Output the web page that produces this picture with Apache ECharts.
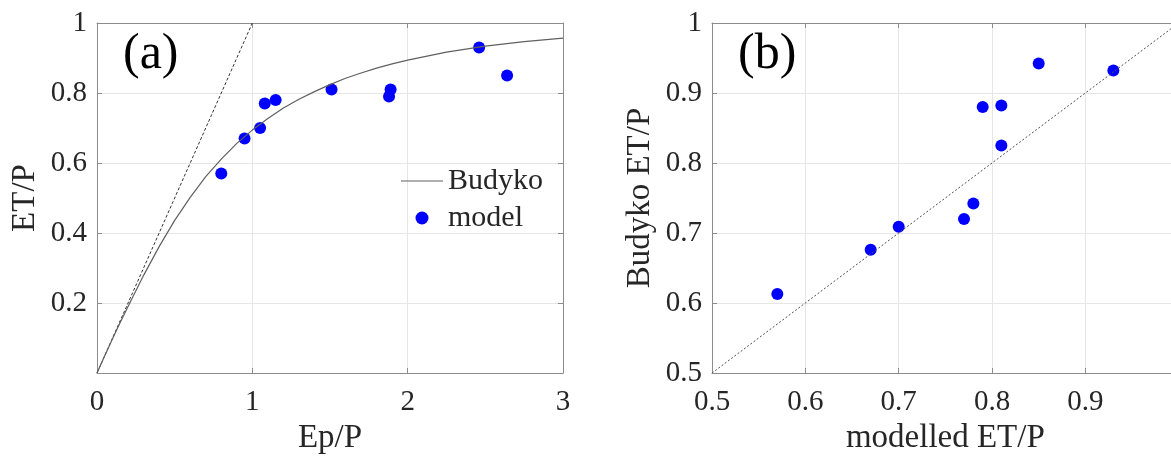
<!DOCTYPE html>
<html>
<head>
<meta charset="utf-8">
<script src="https://cdn.jsdelivr.net/npm/echarts@6/dist/echarts.min.js"></script>
<style>
  html, body { margin: 0; padding: 0; background: #ffffff; }
  #chart { width: 1171px; height: 456px; }
</style>
</head>
<body>
<div id="chart"></div>
<script>
// Budyko curve (ET/P against Ep/P)
const budykoPhi = [0, 0.05, 0.1, 0.15, 0.2, 0.3, 0.4, 0.5, 0.6, 0.7, 0.8, 0.9, 1.0, 1.1, 1.2, 1.3, 1.4, 1.5, 1.6, 1.7, 1.8, 1.9, 2.0, 2.25, 2.5, 2.75, 3.0];
const budykoEtp = [0, 0.049, 0.098, 0.145, 0.190, 0.279, 0.361, 0.436, 0.502, 0.561, 0.611, 0.656, 0.694, 0.727, 0.757, 0.782, 0.804, 0.824, 0.842, 0.857, 0.871, 0.883, 0.894, 0.917, 0.934, 0.947, 0.957];

// energy limit ET = Ep
const limitPhi = [0, 1];
const limitEtp = [0, 1];

// model results per catchment
const modelPhi = [0.80, 0.95, 1.05, 1.08, 1.15, 1.51, 1.88, 1.89, 2.46, 2.64];
const modelEtp = [0.57, 0.67, 0.70, 0.77, 0.78, 0.81, 0.79, 0.81, 0.93, 0.85];

// panel (b): modelled vs Budyko ET/P
const modelledEtp = [0.57, 0.67, 0.70, 0.77, 0.78, 0.81, 0.79, 0.81, 0.85, 0.93];
const budykoAtModel = [0.613, 0.676, 0.709, 0.720, 0.742, 0.825, 0.880, 0.882, 0.942, 0.932];

// 1:1 line
const oneToOneX = [0.5, 1];
const oneToOneY = [0.5, 1];

const panelLabels = ['(a)', '(b)'];
const axisNames = { ax: 'Ep/P', ay: 'ET/P', bx: 'modelled ET/P', by: 'Budyko ET/P' };

const FONT = 'Liberation Serif';
const TEXT = '#262626';
const AXIS = '#8c8c8c';
const GRIDLINE = '#e6e6e6';
const CURVE = '#606060';

const pairs = (xs, ys) => xs.map((x, i) => [x, ys[i]]);
const fmt = v => (Math.abs(v - Math.round(v)) < 1e-9 ? String(Math.round(v)) : (+v).toFixed(1));

function mainAxis(gridIndex, pos, min, max, interval, name, extraLabel) {
  const isX = pos === 'bottom';
  return {
    type: 'value', gridIndex, position: pos, min, max, interval,
    name, nameLocation: 'middle', nameGap: isX ? 49 : 55,
    nameTextStyle: { fontFamily: FONT, fontSize: 33, color: TEXT },
    axisLine: { show: true, onZero: false, lineStyle: { color: AXIS, width: 1 } },
    axisTick: { show: true, inside: true, length: 5, lineStyle: { color: AXIS } },
    axisLabel: Object.assign({ fontFamily: FONT, fontSize: 29, color: TEXT, margin: isX ? 15 : 10, formatter: fmt }, extraLabel || {}),
    splitLine: { show: true, lineStyle: { color: GRIDLINE, width: 1 } }
  };
}

function boxAxis(gridIndex, pos, min, max, interval) {
  return {
    type: 'value', gridIndex, position: pos, min, max, interval,
    axisLine: { show: true, onZero: false, lineStyle: { color: AXIS, width: 1 } },
    axisTick: { show: true, inside: true, length: 5, lineStyle: { color: AXIS } },
    axisLabel: { show: false },
    splitLine: { show: false }
  };
}

const chart = echarts.init(document.getElementById('chart'), null, { renderer: 'canvas' });

chart.setOption({
  backgroundColor: '#ffffff',
  animation: false,
  title: [
    { text: panelLabels[0], left: 118, top: 25, textStyle: { fontFamily: FONT, fontSize: 50, fontWeight: 'normal', color: '#000' } },
    { text: panelLabels[1], left: 733, top: 25, textStyle: { fontFamily: FONT, fontSize: 50, fontWeight: 'normal', color: '#000' } }
  ],
  legend: {
    orient: 'vertical', left: 401, top: 166, padding: 0, itemGap: 7,
    itemWidth: 42, itemHeight: 13,
    textStyle: { fontFamily: FONT, fontSize: 30, color: TEXT },
    data: [
      { name: 'Budyko', icon: 'path://M0,0H42V1H0Z', itemStyle: { color: CURVE } },
      { name: 'model', icon: 'circle' }
    ]
  },
  grid: [
    { left: 97, top: 23, width: 466, height: 350, outerBoundsMode: 'none' },
    { left: 712, top: 23, width: 466.7, height: 350, outerBoundsMode: 'none' }
  ],
  xAxis: [
    mainAxis(0, 'bottom', 0, 3, 1, axisNames.ax),
    boxAxis(0, 'top', 0, 3, 1),
    mainAxis(1, 'bottom', 0.5, 1, 0.1, axisNames.bx),
    boxAxis(1, 'top', 0.5, 1, 0.1)
  ],
  yAxis: [
    mainAxis(0, 'left', 0, 1, 0.2, axisNames.ay, { showMinLabel: false }),
    boxAxis(0, 'right', 0, 1, 0.2),
    mainAxis(1, 'left', 0.5, 1, 0.1, axisNames.by),
    boxAxis(1, 'right', 0.5, 1, 0.1)
  ],
  series: [
    {
      name: 'energy limit', type: 'line', xAxisIndex: 0, yAxisIndex: 0,
      data: pairs(limitPhi, limitEtp), symbol: 'none', silent: true,
      lineStyle: { color: '#333333', width: 1, type: [3, 2] }
    },
    {
      name: 'Budyko', type: 'line', xAxisIndex: 0, yAxisIndex: 0,
      data: pairs(budykoPhi, budykoEtp), symbol: 'none', showSymbol: false,
      itemStyle: { color: CURVE },
      lineStyle: { color: CURVE, width: 1.2 }
    },
    {
      name: 'model', type: 'scatter', xAxisIndex: 0, yAxisIndex: 0,
      data: pairs(modelPhi, modelEtp), symbol: 'circle', symbolSize: 12,
      itemStyle: { color: '#0000ff', opacity: 1 }
    },
    {
      name: '1:1', type: 'line', xAxisIndex: 2, yAxisIndex: 2,
      data: pairs(oneToOneX, oneToOneY), symbol: 'none', silent: true,
      lineStyle: { color: '#555555', width: 1, type: [2, 2] }
    },
    {
      name: 'model vs Budyko', type: 'scatter', xAxisIndex: 2, yAxisIndex: 2,
      data: pairs(modelledEtp, budykoAtModel), symbol: 'circle', symbolSize: 12,
      itemStyle: { color: '#0000ff', opacity: 1 }
    }
  ]
});
</script>
</body>
</html>
